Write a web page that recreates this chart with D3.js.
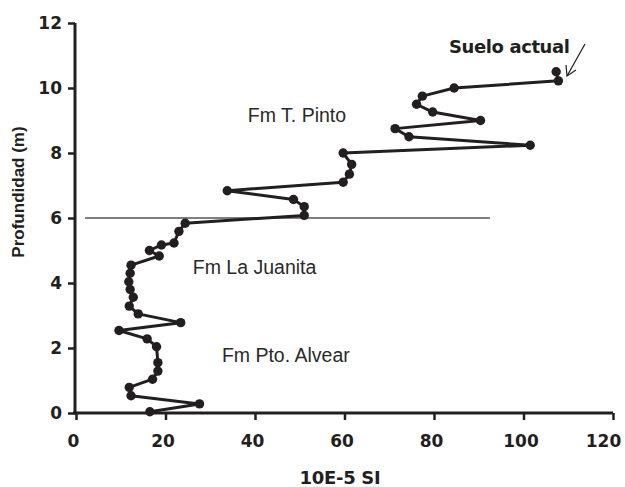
<!DOCTYPE html>
<html><head><meta charset="utf-8">
<script src="https://cdn.jsdelivr.net/npm/d3@7"></script>
<style>body{margin:0;background:#fff}svg{display:block}</style>
</head><body><div id="chart"></div>
<script>
const depth = [10.5, 10.22, 10.0, 9.75, 9.5, 9.26, 9.0, 8.75, 8.5, 8.24, 8.0, 7.65, 7.35, 7.1, 6.84, 6.57, 6.35, 6.08, 5.84, 5.59, 5.23, 5.17, 5.0, 4.83, 4.55, 4.3, 4.04, 3.8, 3.56, 3.29, 3.05, 2.78, 2.54, 2.28, 2.04, 1.55, 1.29, 1.04, 0.79, 0.53, 0.28, 0.04];
const susceptibility = [107.3, 107.8, 84.5, 77.4, 76.1, 79.7, 90.4, 71.3, 74.4, 101.5, 59.7, 61.6, 61.1, 59.7, 33.8, 48.6, 51.0, 51.0, 24.4, 23.0, 21.9, 19.1, 16.4, 18.6, 12.3, 12.1, 11.8, 12.1, 12.8, 11.9, 13.9, 23.4, 9.6, 15.9, 18.0, 18.3, 18.3, 17.1, 11.9, 12.3, 27.6, 16.5];
const xTicks = [0, 20, 40, 60, 80, 100, 120];
const yTicks = [0, 2, 4, 6, 8, 10, 12];
const formations = ["Fm T. Pinto", "Fm La Juanita", "Fm Pto. Alvear"];
const formationX = [38.4, 26.1, 32.6];
const formationY = [8.95, 4.28, 1.57];
const boundaryDepth = 6;
const boundaryRange = [2, 92.5];

const W = 625, H = 487;
const svg = d3.select("#chart").append("svg").attr("width", W).attr("height", H);
const x = d3.scaleLinear().domain([0, 120]).range([76, 613]);
const y = d3.scaleLinear().domain([0, 12]).range([413, 23]);
const tickFont = "'DejaVu Sans', sans-serif";
const labFont = "'Liberation Sans', Arial, sans-serif";
const ink = "#231f20";

// axes
const xAxis = svg.append("g").attr("transform", "translate(0,413)")
  .call(d3.axisBottom(x).tickValues(xTicks).tickSizeOuter(0).tickSize(7).tickPadding(15));
const yAxis = svg.append("g").attr("transform", "translate(75,0)")
  .call(d3.axisLeft(y).tickValues(yTicks).tickSizeOuter(0).tickSize(7).tickPadding(6));
[xAxis, yAxis].forEach(g => {
  g.selectAll("path.domain").attr("stroke", ink).attr("stroke-width", 3);
  g.selectAll(".tick line").attr("stroke", ink).attr("stroke-width", 2.5);
  g.selectAll(".tick text").attr("fill", ink).style("font-family", tickFont)
    .style("font-weight", "bold").style("font-size", "17px");
});
xAxis.selectAll(".tick text").attr("dx", d => d === 120 ? -10 : -3);
xAxis.select("path.domain").attr("d", `M73,0H${x(120)}`);
yAxis.select("path.domain").attr("d", `M0,${y(12)}V${y(0)+1}`);

// axis titles
svg.append("text").attr("x", 340).attr("y", 484).attr("text-anchor", "middle")
  .style("font-family", tickFont).style("font-weight", "bold").style("font-size", "18px")
  .style("letter-spacing", "-0.3px")
  .attr("fill", ink).text("10E-5 SI");
svg.append("text").attr("transform", "translate(24,192) rotate(-90)").attr("text-anchor", "middle")
  .style("font-family", labFont).style("font-weight", "bold").style("font-size", "17px")
  .attr("fill", ink).text("Profundidad (m)");

// boundary line
svg.append("line").attr("x1", x(boundaryRange[0])).attr("x2", x(boundaryRange[1]))
  .attr("y1", y(boundaryDepth)).attr("y2", y(boundaryDepth))
  .attr("stroke", "#555").attr("stroke-width", 1.5);

// data line
const pts = depth.map((d, i) => [susceptibility[i], d]);
svg.append("path").datum(pts)
  .attr("d", d3.line().x(d => x(d[0])).y(d => y(d[1])))
  .attr("fill", "none").attr("stroke", ink).attr("stroke-width", 3).attr("stroke-linejoin", "round");
svg.selectAll("circle.pt").data(pts).join("circle").attr("class", "pt")
  .attr("cx", d => x(d[0])).attr("cy", d => y(d[1])).attr("r", 4.7).attr("fill", ink);

// formation labels
svg.selectAll("text.fm").data(formations).join("text").attr("class", "fm")
  .attr("x", (d, i) => x(formationX[i])).attr("y", (d, i) => y(formationY[i]))
  .style("font-family", labFont).style("font-size", "19.5px")
  .attr("fill", "#2a2a2a").text(d => d);

// Suelo actual annotation
svg.append("text").attr("x", 449).attr("y", 53)
  .style("font-family", tickFont).style("font-weight", "bold").style("font-size", "18px")
  .style("letter-spacing", "-0.4px")
  .attr("fill", ink).text("Suelo actual");
svg.append("line").attr("x1", 585).attr("y1", 44).attr("x2", 567).attr("y2", 76)
  .attr("stroke", ink).attr("stroke-width", 1.2);
svg.append("path").attr("d", "M566,65 L567,76 L576,70")
  .attr("fill", "none").attr("stroke", ink).attr("stroke-width", 1.2);
</script></body></html>
